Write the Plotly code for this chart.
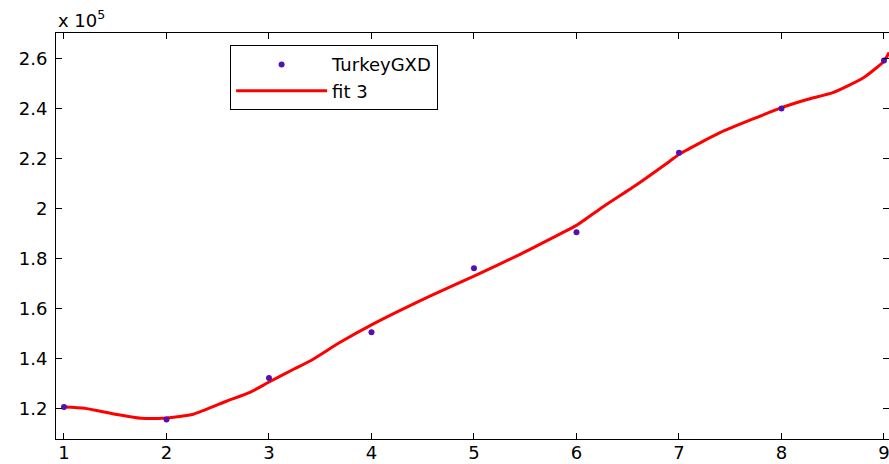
import plotly.graph_objects as go

# data (values in absolute units; axis labelled x 10^5)
x_points = [1, 2, 3, 4, 5, 6, 7, 8, 9]
y_points = [120600, 115600, 132200, 150500, 176100, 190600, 222400, 240100, 259300]

x_fit = [1.0, 1.2, 1.5, 1.75, 2.0, 2.26, 2.59, 2.82, 3.0, 3.24, 3.4, 3.69, 4.0,
         4.57, 5.0, 5.45, 5.77, 6.0, 6.26, 6.59, 6.91, 7.0, 7.4, 8.0, 8.25, 8.5,
         8.8, 9.0, 9.05]
y_fit = [120600, 120100, 117700, 116100, 116200, 117700, 123000, 126600, 130600,
         135700, 139000, 146400, 153500, 165000, 173000, 181700, 188400, 193300,
         200800, 209700, 219000, 221700, 230400, 240400, 243700, 246400, 252400,
         259000, 262500]

x_ticks = [1, 2, 3, 4, 5, 6, 7, 8, 9]
y_tickvals = [120000, 140000, 160000, 180000, 200000, 220000, 240000, 260000]
y_ticktext = ["1.2", "1.4", "1.6", "1.8", "2", "2.2", "2.4", "2.6"]

FONT = "DejaVu Sans, Arial, sans-serif"

fig = go.Figure()
fig.add_trace(go.Scatter(
    x=x_fit, y=y_fit, mode="lines", name="fit 3", legendrank=2,
    line=dict(color="#ff0000", width=3, shape="spline", smoothing=0.5),
))
fig.add_trace(go.Scatter(
    x=x_points, y=y_points, mode="markers", name="TurkeyGXD", legendrank=1,
    cliponaxis=False,
    marker=dict(color="#5410b0", size=6, line=dict(width=0)),
))

axis_common = dict(
    showline=True, linecolor="black", linewidth=1, mirror="ticks",
    ticks="inside", ticklen=6, tickcolor="black", showgrid=False, zeroline=False,
    automargin=False, ticklabeloverflow="allow",
    tickfont=dict(family=FONT, size=18, color="black"),
)

# plot area: left 56, top 33, bottom 439; right edge at the window edge (x=9 at 884)
fig.update_layout(
    width=889, height=464,
    margin=dict(l=56, r=0, t=33, b=25),
    paper_bgcolor="white", plot_bgcolor="white",
    xaxis=dict(range=[0.922, 9.049], tickvals=x_ticks, ticklabelstandoff=-3,
               **axis_common),
    yaxis=dict(range=[107800, 270300], tickvals=y_tickvals, ticktext=y_ticktext,
               ticklabelstandoff=4, **axis_common),
    legend=dict(
        x=0.209, y=0.97, xanchor="left", yanchor="top",
        bordercolor="black", borderwidth=1, bgcolor="white",
        font=dict(family=FONT, size=18, color="black"),
        itemwidth=91, tracegroupgap=0,
    ),
    showlegend=True,
    annotations=[dict(
        text="x 10<sup>5</sup>", xref="paper", yref="paper", x=0, y=1,
        xanchor="left", yanchor="bottom", showarrow=False,
        font=dict(family=FONT, size=18, color="black"),
    )],
)

fig.write_html(
    "out.html",
    config={"displayModeBar": False},
    post_script="document.body.style.margin='0';document.body.style.overflow='hidden';",
)
